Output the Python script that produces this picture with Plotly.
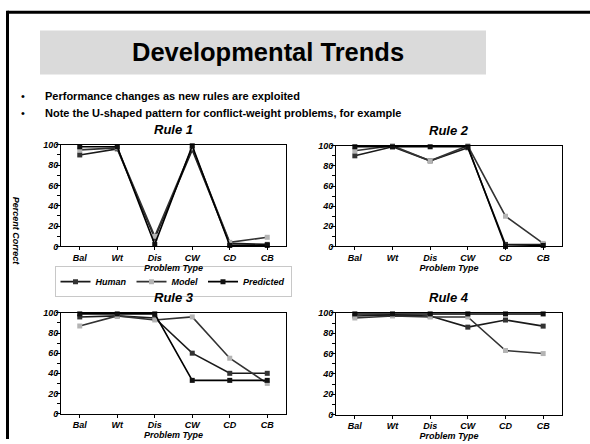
import plotly.graph_objects as go

W, H = 590, 444

categories = ["Bal", "Wt", "Dis", "CW", "CD", "CB"]
y_ticks = [0, 20, 40, 60, 80, 100]

rule1_human = [90, 96, 8, 95, 3, 2]
rule1_model = [95, 97, 10, 97, 4, 9]
rule1_predicted = [98, 98, 2, 99, 1, 1]

rule2_human = [90, 99, 85, 98, 2, 2]
rule2_model = [95, 100, 85, 100, 30, 3]
rule2_predicted = [99, 99, 99, 99, 0, 1]

rule3_human = [96, 97, 95, 60, 40, 40]
rule3_model = [87, 97, 93, 96, 55, 30]
rule3_predicted = [99, 99, 99, 33, 33, 33]

rule4_human = [97, 98, 97, 86, 93, 87]
rule4_model = [95, 97, 96, 96, 63, 60]
rule4_predicted = [99, 99, 99, 99, 99, 99]

series_names = ["Human", "Model", "Predicted"]
panel_titles = ["Rule 1", "Rule 2", "Rule 3", "Rule 4"]
panels = [
    [rule1_human, rule1_model, rule1_predicted],
    [rule2_human, rule2_model, rule2_predicted],
    [rule3_human, rule3_model, rule3_predicted],
    [rule4_human, rule4_model, rule4_predicted],
]

FONT = "Liberation Sans, Arial, sans-serif"

# pixel boxes of plot areas (left, right, top, bottom)
boxes = [(61, 286, 143, 247), (336, 562, 144, 247),
         (61, 286, 315, 418), (336, 562, 315, 419)]

line_colors = ["#1a1a1a", "#333333", "#000000"]
marker_colors = ["#333333", "#b4b4b4", "#111111"]

fig = go.Figure()

for i, (vals, box) in enumerate(zip(panels, boxes)):
    ax = "" if i == 0 else str(i + 1)
    for j, v in enumerate(vals):
        fig.add_trace(go.Scatter(
            x=categories, y=v, name=series_names[j],
            mode="lines+markers",
            line=dict(color=line_colors[j], width=1.6),
            marker=dict(symbol="square", size=5, color=marker_colors[j],
                        line=dict(width=0)),
            cliponaxis=False,
            showlegend=(i == 0),
            xaxis="x" + ax, yaxis="y" + ax,
        ))
    l, r, t, b = box
    axfont = dict(family=FONT, size=9, color="black", weight="bold", style="italic")
    fig.layout["xaxis" + ax] = dict(
        domain=[l / W, r / W], anchor="y" + ax,
        type="category", categoryorder="array", categoryarray=categories,
        range=[-0.5, 5.5],
        showline=True, linecolor="black", linewidth=1, mirror=True,
        ticks="outside", ticklen=3, tickcolor="black",
        tickfont=axfont, showgrid=False, zeroline=False,
        title=dict(text="Problem Type", font=axfont, standoff=0),
        fixedrange=True,
    )
    fig.layout["yaxis" + ax] = dict(
        domain=[1 - b / H, 1 - t / H], anchor="x" + ax,
        range=[0, 100], tickvals=y_ticks,
        showline=True, linecolor="black", linewidth=1, mirror=True,
        ticks="outside", ticklen=4, tickcolor="black",
        minor=dict(dtick=10, ticks="outside", ticklen=3, tickcolor="black"),
        ticklabelstandoff=-4,
        tickfont=axfont, showgrid=False, zeroline=False,
        fixedrange=True,
    )
    fig.add_annotation(
        text=panel_titles[i], x=(l + r) / 2 / W, y=1 - (t - 16) / H,
        xref="paper", yref="paper", showarrow=False,
        xanchor="center", yanchor="middle",
        font=dict(family=FONT, size=13, color="black", weight="bold", style="italic"),
    )

# slide frame
fig.add_shape(type="line", xref="paper", yref="paper",
              x0=7.5 / W, x1=1, y0=1 - 7.5 / H, y1=1 - 7.5 / H,
              line=dict(color="black", width=3))
fig.add_shape(type="line", xref="paper", yref="paper",
              x0=7.5 / W, x1=7.5 / W, y0=0, y1=1 - 6 / H,
              line=dict(color="black", width=3))
# title box
fig.add_shape(type="rect", xref="paper", yref="paper",
              x0=40 / W, x1=486 / W, y0=1 - 71 / H, y1=1 - 26 / H,
              fillcolor="#dadada", line=dict(width=0), layer="below")
fig.add_annotation(text="<b>Developmental Trends</b>", x=268 / W, y=1 - 48 / H,
                   xref="paper", yref="paper", showarrow=False,
                   xanchor="center", yanchor="middle",
                   font=dict(family=FONT, size=25.5, color="black"))

bullets = ["Performance changes as new rules are exploited",
           "Note the U-shaped pattern for conflict-weight problems, for example"]
for k, txt in enumerate(bullets):
    yy = 1 - (93 + 17 * k) / H
    fig.add_annotation(text="•", x=19 / W, y=yy, xref="paper", yref="paper",
                       showarrow=False, xanchor="left", yanchor="middle",
                       font=dict(family=FONT, size=11, color="black"))
    fig.add_annotation(text="<b>" + txt + "</b>", x=43 / W, y=yy,
                       xref="paper", yref="paper", showarrow=False,
                       xanchor="left", yanchor="middle",
                       font=dict(family=FONT, size=11, color="black"))

fig.add_annotation(text="Percent Correct", x=16 / W, y=1 - 231 / H,
                   xref="paper", yref="paper", showarrow=False, textangle=90,
                   xanchor="center", yanchor="middle",
                   font=dict(family=FONT, size=9, color="black",
                             weight="bold", style="italic"))

fig.update_layout(
    width=W, height=H, margin=dict(l=0, r=0, t=0, b=0),
    paper_bgcolor="white", plot_bgcolor="white",
    showlegend=True,
    legend=dict(orientation="h", x=173 / W, y=1 - 283 / H,
                xanchor="center", yanchor="middle",
                bordercolor="#c8c8c8", borderwidth=1, bgcolor="white",
                itemwidth=30, tracegroupgap=0,
                font=dict(family=FONT, size=9, color="black",
                          weight="bold", style="italic")),
)

fig.write_html("out.html", config={"displayModeBar": False},
               post_script="document.body.style.margin='0';document.body.style.overflow='hidden';")
